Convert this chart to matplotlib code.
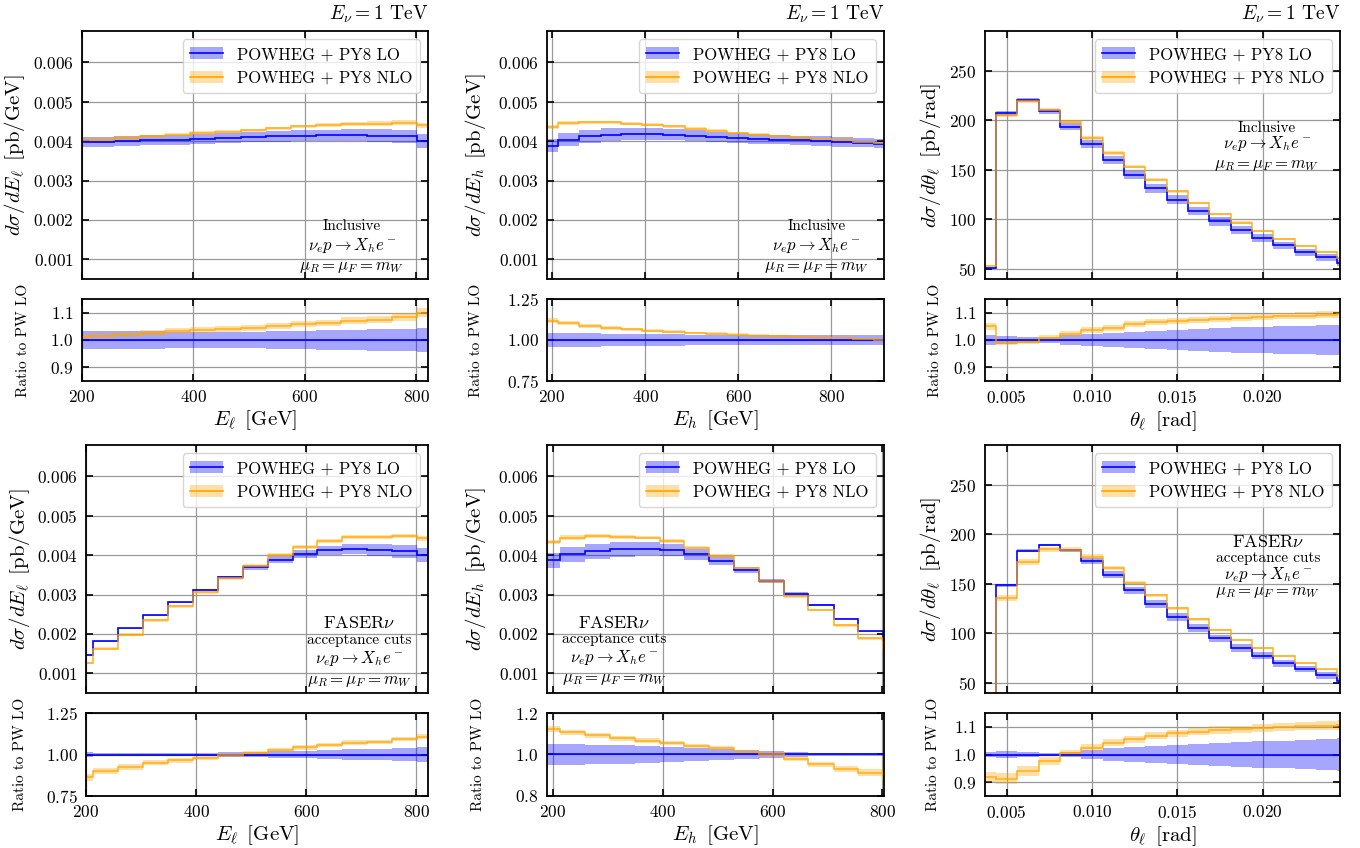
import matplotlib
matplotlib.use('Agg')
import matplotlib.pyplot as plt
from matplotlib.patches import Patch
from matplotlib.lines import Line2D
import numpy as np

plt.rcParams['font.family'] = 'serif'
plt.rcParams['font.serif'] = ['cmr10']
plt.rcParams['mathtext.fontset'] = 'cm'
plt.rcParams['axes.formatter.use_mathtext'] = True
plt.rcParams['axes.unicode_minus'] = False

# bin edges
e_edges = [168, 213, 258, 304, 349, 394, 439, 485, 530, 575, 620, 665, 711, 756, 801, 846]
eh_incl_edges = [168, 213, 258, 304, 349, 394, 439, 485, 530, 575, 620, 665, 711, 756, 801, 846, 891, 936]
th_edges = [0.003125, 0.004375, 0.005625, 0.006875, 0.008125, 0.009375, 0.010625, 0.011875,
            0.013125, 0.014375, 0.015625, 0.016875, 0.018125, 0.019375, 0.020625, 0.021875,
            0.023125, 0.024375, 0.025625]

# inclusive, E_lepton
el_incl_lo = [0.00397, 0.00398, 0.00400, 0.00402, 0.00404, 0.00406, 0.00408, 0.00410,
              0.00412, 0.00414, 0.00415, 0.00415, 0.00414, 0.00412, 0.00400]
el_incl_nlo = [0.00402, 0.00404, 0.00408, 0.00412, 0.00417, 0.00421, 0.00424, 0.00428,
               0.00433, 0.00438, 0.00441, 0.00444, 0.00445, 0.00447, 0.00440]
el_incl_lo_err = [0.032, 0.032, 0.032, 0.032, 0.031, 0.031, 0.031, 0.031, 0.032, 0.033,
                  0.035, 0.037, 0.039, 0.042, 0.045]
el_incl_nlo_err = [0.010, 0.010, 0.010, 0.010, 0.010, 0.010, 0.010, 0.010, 0.010, 0.010,
                   0.011, 0.012, 0.012, 0.013, 0.015]

# inclusive, E_hadron
eh_incl_lo = [0.00389, 0.00404, 0.00413, 0.00417, 0.00418, 0.00418, 0.00417, 0.00414, 0.00411,
              0.00408, 0.00406, 0.00404, 0.00402, 0.00400, 0.00398, 0.00396, 0.00394]
eh_incl_nlo = [0.00435, 0.00446, 0.00448, 0.00448, 0.00445, 0.00442, 0.00438, 0.00432, 0.00427,
               0.00421, 0.00417, 0.00413, 0.00409, 0.00406, 0.00402, 0.00398, 0.00395]
eh_incl_lo_err = [0.045, 0.042, 0.040, 0.038, 0.036, 0.035, 0.034, 0.033, 0.032, 0.031,
                  0.030, 0.030, 0.030, 0.030, 0.030, 0.030, 0.030]
eh_incl_nlo_err = [0.012, 0.011, 0.010, 0.010, 0.010, 0.009, 0.009, 0.008, 0.008, 0.008,
                   0.008, 0.008, 0.008, 0.008, 0.008, 0.008, 0.008]

# inclusive, theta_lepton
th_incl_lo = [51.0, 207.0, 220.5, 209.0, 193.5, 176.0, 160.0, 145.0, 131.5, 120.0, 108.7,
              98.0, 89.6, 81.2, 73.8, 67.0, 61.7, 56.0]
th_incl_nlo = [53.6, 205.1, 219.2, 210.5, 197.9, 182.3, 167.0, 153.3, 140.0, 128.3, 116.6,
               105.6, 96.9, 88.0, 80.3, 73.0, 67.4, 61.3]
th_incl_lo_err = [0.020, 0.013, 0.010, 0.012, 0.017, 0.022, 0.026, 0.030, 0.034, 0.037, 0.040,
                  0.043, 0.046, 0.048, 0.050, 0.052, 0.054, 0.056]
th_incl_nlo_err = [0.012, 0.010, 0.010, 0.010, 0.010, 0.010, 0.010, 0.010, 0.010, 0.010, 0.010,
                   0.010, 0.011, 0.011, 0.011, 0.012, 0.012, 0.012]

# FASERnu cuts, E_lepton
el_fas_lo = [0.00146, 0.00181, 0.00214, 0.00247, 0.00280, 0.00312, 0.00344, 0.00369,
             0.00389, 0.00403, 0.00413, 0.00416, 0.00414, 0.00410, 0.00400]
el_fas_nlo = [0.00126, 0.00163, 0.00198, 0.00235, 0.00270, 0.00306, 0.00342, 0.00373,
              0.00400, 0.00420, 0.00437, 0.00446, 0.00446, 0.00448, 0.00443]
el_fas_lo_err = [0.015, 0.012, 0.010, 0.008, 0.008, 0.010, 0.013, 0.016, 0.020, 0.024,
                 0.028, 0.032, 0.036, 0.040, 0.045]
el_fas_nlo_err = [0.025, 0.020, 0.017, 0.015, 0.014, 0.013, 0.012, 0.012, 0.012, 0.012,
                  0.012, 0.012, 0.012, 0.012, 0.013]

# FASERnu cuts, E_hadron
eh_fas_lo = [0.00387, 0.00402, 0.00410, 0.00415, 0.00417, 0.00413, 0.00402, 0.00386,
             0.00362, 0.00334, 0.00302, 0.00274, 0.00239, 0.00207, 0.00185]
eh_fas_nlo = [0.00434, 0.00445, 0.00448, 0.00447, 0.00445, 0.00436, 0.00419, 0.00398,
              0.00367, 0.00334, 0.00296, 0.00261, 0.00222, 0.00189, 0.00163]
eh_fas_lo_err = [0.050, 0.050, 0.048, 0.045, 0.042, 0.038, 0.033, 0.028, 0.022, 0.016,
                 0.012, 0.008, 0.006, 0.005, 0.005]
eh_fas_nlo_err = [0.013, 0.012, 0.012, 0.011, 0.011, 0.010, 0.010, 0.010, 0.010, 0.011,
                  0.012, 0.014, 0.016, 0.018, 0.020]

# FASERnu cuts, theta_lepton
th_fas_lo = [20.0, 148.5, 183.4, 189.2, 183.8, 173.4, 159.2, 143.4, 129.7, 116.6, 105.5,
             95.0, 85.3, 77.6, 70.2, 64.1, 57.7, 51.7]
th_fas_nlo = [18.4, 135.6, 172.4, 184.8, 184.5, 177.6, 165.9, 151.3, 138.5, 125.5, 114.2,
              103.4, 93.1, 85.0, 77.1, 70.6, 63.7, 57.2]
th_fas_lo_err = [0.010, 0.012, 0.008, 0.006, 0.010, 0.017, 0.022, 0.026, 0.030, 0.034, 0.037,
                 0.041, 0.044, 0.047, 0.050, 0.053, 0.056, 0.058]
th_fas_nlo_err = [0.020, 0.020, 0.018, 0.015, 0.012, 0.012, 0.012, 0.012, 0.012, 0.012, 0.012,
                  0.012, 0.012, 0.012, 0.013, 0.013, 0.014, 0.015]

LO_COLOR = 'blue'
NLO_COLOR = 'orange'
BAND_ALPHA = 0.35

e_ticks = [200, 400, 600, 800]
th_ticks = [0.005, 0.010, 0.015, 0.020]
e_yticks = [0.001, 0.002, 0.003, 0.004, 0.005, 0.006]
th_yticks = [50, 100, 150, 200, 250]

incl_text = ['Inclusive', r'$\nu_e p \rightarrow X_h e^-$', r'$\mu_R = \mu_F = m_W$']
fas_text = [r'FASER$\nu$', 'acceptance cuts', r'$\nu_e p \rightarrow X_h e^-$',
            r'$\mu_R = \mu_F = m_W$']

# figure layout in pixels: (left, right) for columns, (top, bottom) for rows
W, H = 1360, 848
cols_top = [(82, 428), (547, 884), (985, 1340)]
cols_bot = [(86, 428), (547, 884), (985, 1340)]
rows = [((31, 279), (299, 381)), ((445, 693), (713, 796))]


def rect(x0, x1, y0, y1):
    return [x0 / W, 1 - y1 / H, (x1 - x0) / W, (y1 - y0) / H]


panels = [
    # row 0
    dict(edges=e_edges, lo=el_incl_lo, nlo=el_incl_nlo, lo_err=el_incl_lo_err, nlo_err=el_incl_nlo_err,
         xlim=(200, 821), xticks=e_ticks, ylim=(0.0005, 0.0068), yticks=e_yticks,
         rlim=(0.85, 1.15), rticks=[0.9, 1.0, 1.1],
         xlabel=r'$E_\ell\ \,[\mathrm{GeV}]$', ylabel=r'$d\sigma/dE_\ell\ \,[\mathrm{pb/GeV}]$',
         text=incl_text, tx=0.78, ty=[0.214, 0.137, 0.048], tsize=[11, 12, 12],
         ylc=(-0.159, -0.150)),
    dict(edges=eh_incl_edges, lo=eh_incl_lo, nlo=eh_incl_nlo, lo_err=eh_incl_lo_err, nlo_err=eh_incl_nlo_err,
         xlim=(189, 913), xticks=e_ticks, ylim=(0.0005, 0.0068), yticks=e_yticks,
         rlim=(0.75, 1.25), rticks=[0.75, 1.0, 1.25],
         xlabel=r'$E_h\ \,[\mathrm{GeV}]$', ylabel=r'$d\sigma/dE_h\ \,[\mathrm{pb/GeV}]$',
         text=incl_text, tx=0.80, ty=[0.214, 0.137, 0.048], tsize=[11, 12, 12],
         ylc=(-0.175, -0.190)),
    dict(edges=th_edges, lo=th_incl_lo, nlo=th_incl_nlo, lo_err=th_incl_lo_err, nlo_err=th_incl_nlo_err,
         xlim=(0.00373, 0.02453), xticks=th_ticks, ylim=(40, 290), yticks=th_yticks,
         rlim=(0.85, 1.15), rticks=[0.9, 1.0, 1.1],
         xlabel=r'$\theta_\ell\ \,[\mathrm{rad}]$', ylabel=r'$d\sigma/d\theta_\ell\ \,[\mathrm{pb/rad}]$',
         text=incl_text, tx=0.794, ty=[0.609, 0.548, 0.46], tsize=[11, 12, 12],
         ylc=(-0.118, -0.121)),
    # row 1
    dict(edges=e_edges, lo=el_fas_lo, nlo=el_fas_nlo, lo_err=el_fas_lo_err, nlo_err=el_fas_nlo_err,
         xlim=(200, 821), xticks=e_ticks, ylim=(0.0005, 0.0068), yticks=e_yticks,
         rlim=(0.75, 1.25), rticks=[0.75, 1.0, 1.25],
         xlabel=r'$E_\ell\ \,[\mathrm{GeV}]$', ylabel=r'$d\sigma/dE_\ell\ \,[\mathrm{pb/GeV}]$',
         text=fas_text, tx=0.80, ty=[0.282, 0.214, 0.141, 0.048], tsize=[13, 11, 12, 12],
         ylc=(-0.158, -0.172)),
    dict(edges=e_edges, lo=eh_fas_lo, nlo=eh_fas_nlo, lo_err=eh_fas_lo_err, nlo_err=eh_fas_nlo_err,
         xlim=(189, 803), xticks=e_ticks, ylim=(0.0005, 0.0068), yticks=e_yticks,
         rlim=(0.8, 1.2), rticks=[0.8, 1.0, 1.2],
         xlabel=r'$E_h\ \,[\mathrm{GeV}]$', ylabel=r'$d\sigma/dE_h\ \,[\mathrm{pb/GeV}]$',
         text=fas_text, tx=0.199, ty=[0.282, 0.218, 0.145, 0.056], tsize=[13, 11, 12, 12],
         ylc=(-0.175, -0.184)),
    dict(edges=th_edges, lo=th_fas_lo, nlo=th_fas_nlo, lo_err=th_fas_lo_err, nlo_err=th_fas_nlo_err,
         xlim=(0.00373, 0.02453), xticks=th_ticks, ylim=(40, 290), yticks=th_yticks,
         rlim=(0.85, 1.15), rticks=[0.9, 1.0, 1.1],
         xlabel=r'$\theta_\ell\ \,[\mathrm{rad}]$', ylabel=r'$d\sigma/d\theta_\ell\ \,[\mathrm{pb/rad}]$',
         text=fas_text, tx=0.797, ty=[0.609, 0.544, 0.476, 0.407], tsize=[13, 11, 12, 12],
         ylc=(-0.118, -0.127)),
]


def style_axes(ax):
    ax.tick_params(direction='in', top=True, right=True, length=5, width=1.2, labelsize=12.5, pad=6)
    for s in ax.spines.values():
        s.set_linewidth(1.3)
    ax.grid(True, color='0.6', lw=0.9)
    ax.set_axisbelow(True)


fig = plt.figure(figsize=(W / 100, H / 100), dpi=100)

for i, p in enumerate(panels):
    r, c = divmod(i, 3)
    cx = (cols_top if r == 0 else cols_bot)[c]
    (mt, mb), (rt, rb) = rows[r]
    ax = fig.add_axes(rect(cx[0], cx[1], mt, mb))
    axr = fig.add_axes(rect(cx[0], cx[1], rt, rb), sharex=ax)

    edges = np.array(p['edges'])
    lo = np.array(p['lo'])
    nlo = np.array(p['nlo'])
    lo_err = np.array(p['lo_err'])
    nlo_err = np.array(p['nlo_err'])

    # main panel
    ax.stairs(lo * (1 + lo_err), edges, baseline=lo * (1 - lo_err), fill=True,
              color=LO_COLOR, alpha=BAND_ALPHA, lw=0)
    ax.stairs(nlo * (1 + nlo_err), edges, baseline=nlo * (1 - nlo_err), fill=True,
              color=NLO_COLOR, alpha=BAND_ALPHA, lw=0)
    ax.stairs(lo, edges, baseline=None, color=LO_COLOR, lw=1.2)
    ax.stairs(nlo, edges, baseline=None, color=NLO_COLOR, lw=1.2, alpha=0.8)

    # ratio panel
    axr.stairs(1 + lo_err, edges, baseline=1 - lo_err, fill=True,
               color=LO_COLOR, alpha=BAND_ALPHA, lw=0)
    axr.stairs(nlo * (1 + nlo_err) / lo, edges, baseline=nlo * (1 - nlo_err) / lo, fill=True,
               color=NLO_COLOR, alpha=BAND_ALPHA, lw=0)
    axr.stairs(lo / lo, edges, baseline=None, color=LO_COLOR, lw=1.2)
    axr.stairs(nlo / lo, edges, baseline=None, color=NLO_COLOR, lw=1.2, alpha=0.8)

    ax.set_xlim(*p['xlim'])
    ax.set_xticks(p['xticks'])
    ax.set_ylim(*p['ylim'])
    ax.set_yticks(p['yticks'])
    axr.set_ylim(*p['rlim'])
    axr.set_yticks(p['rticks'])
    style_axes(ax)
    style_axes(axr)
    ax.tick_params(labelbottom=False)

    ax.set_ylabel(p['ylabel'], fontsize=15)
    ax.yaxis.set_label_coords(p['ylc'][0], 0.5)
    axr.set_ylabel('Ratio to PW LO', fontsize=11)
    axr.yaxis.set_label_coords(p['ylc'][1], 0.5)
    axr.set_xlabel(p['xlabel'], fontsize=15, labelpad=2)

    for txt, ty, ts in zip(p['text'], p['ty'], p['tsize']):
        ax.text(p['tx'], ty, txt, transform=ax.transAxes, ha='center', va='center', fontsize=ts)

    if r == 0:
        ax.text(1.0, 1.025, r'$E_\nu = 1$ TeV', transform=ax.transAxes,
                ha='right', va='bottom', fontsize=14)

    handles = [(Patch(facecolor=LO_COLOR, alpha=BAND_ALPHA, lw=0), Line2D([], [], color=LO_COLOR, lw=1.2)),
               (Patch(facecolor=NLO_COLOR, alpha=BAND_ALPHA, lw=0), Line2D([], [], color=NLO_COLOR, lw=1.2))]
    ax.legend(handles, ['POWHEG + PY8 LO', 'POWHEG + PY8 NLO'], loc='upper right',
              fontsize=12, handlelength=2.0, borderpad=0.45)

fig.savefig('out.png', dpi=100)
